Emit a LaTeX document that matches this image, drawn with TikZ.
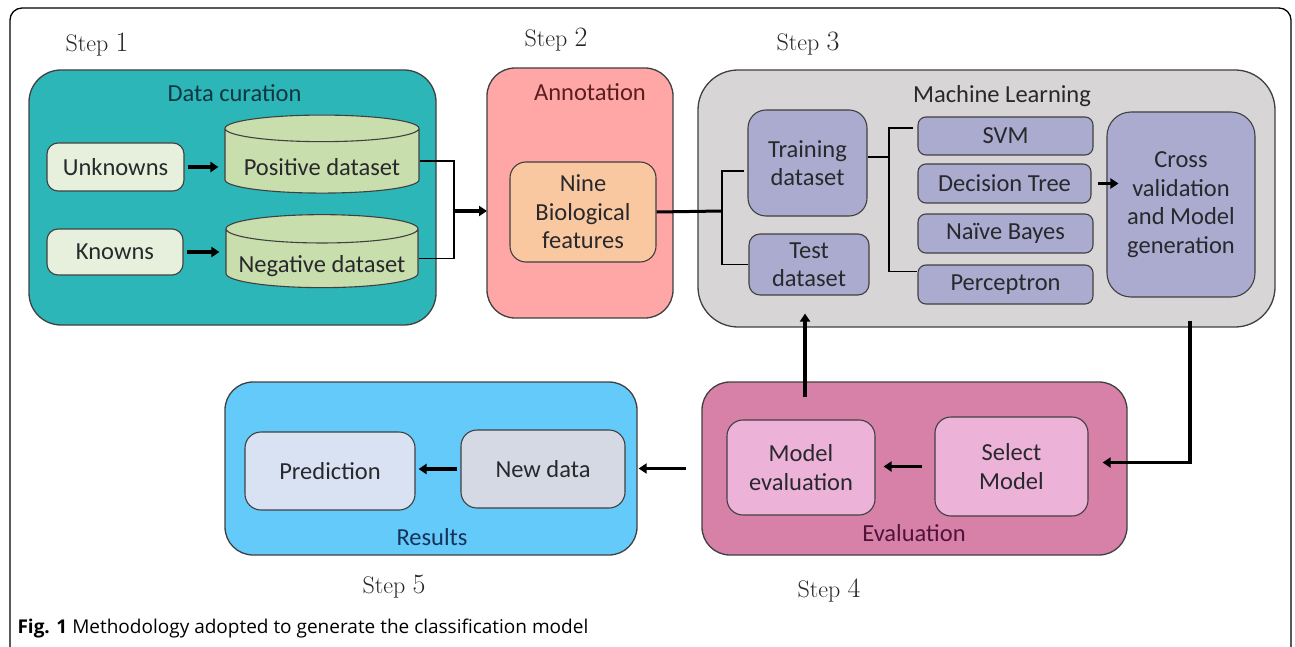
\documentclass[tikz,border=0pt]{standalone}
\usepackage{fontspec}
\setsansfont{Carlito}
\newfontfamily\capfont{Open Sans}
\usetikzlibrary{shapes.geometric,arrows.meta}
\definecolor{curfill}{RGB}{44,182,184}
\definecolor{tankfill}{RGB}{200,222,172}
\definecolor{srcfill}{RGB}{230,240,220}
\definecolor{annfill}{RGB}{255,166,166}
\definecolor{ninefill}{RGB}{250,200,160}
\definecolor{mlfill}{RGB}{215,213,213}
\definecolor{algfill}{RGB}{170,171,206}
\definecolor{evlfill}{RGB}{215,128,168}
\definecolor{pinkbox}{RGB}{236,178,216}
\definecolor{resfill}{RGB}{100,202,250}
\definecolor{predfill}{RGB}{216,226,242}
\definecolor{newfill}{RGB}{212,217,227}
\definecolor{txt}{RGB}{40,40,45}
\begin{document}
\begin{tikzpicture}[x=1pt,y=-1pt,
  every node/.style={font=\sffamily\fontsize{24.5}{28.5}\selectfont,text=txt},
  group/.style={draw=black!75,line width=1.3pt,rounded corners=32pt},
  item/.style={draw=black!75,line width=1.1pt,rounded corners=11pt,align=center,inner sep=0pt},
  tank/.style={cylinder,shape border rotate=90,aspect=0.17,draw=black!75,line width=1.1pt,
    cylinder uses custom fill,cylinder body fill=tankfill,cylinder end fill=tankfill,inner sep=0pt},
  arr/.style={line width=3.2pt,-{Triangle[length=8pt,width=10pt]}},
  link/.style={line width=1.8pt},
  steplbl/.style={font=\rmfamily\fontsize{24}{28}\selectfont,text=black!85}]
\useasboundingbox (0,0) rectangle (1295,647);
\draw[line width=1.3pt,rounded corners=12pt] (10,647) -- (10,8) -- (1291,8) -- (1291,647);
% step 1
\node[steplbl] (s1) at (97,45) {Step {\fontsize{28}{28}\selectfont 1}};
\node[group,fill=curfill,minimum width=407,minimum height=255] (cur) at (232.5,197.5) {};
\node[text={rgb,255:red,15;green,55;blue,65}] (curT) at (234.5,93) {Data curation};
\node[item,fill=srcfill,minimum width=137,minimum height=48] (unk) at (115.5,167) {Unknowns};
\node[item,fill=srcfill,minimum width=136,minimum height=46] (kno) at (115,252) {Knowns};
\node[tank,minimum width=194,minimum height=78] (pos) at (322,161) {\raisebox{-6pt}[\height][\depth]{Positive dataset}};
\node[tank,minimum width=192,minimum height=73] (neg) at (322,258.5) {\raisebox{-8pt}[\height][\depth]{Negative dataset}};
\draw[arr,shorten <=3pt,shorten >=6pt] (unk.east) -- (unk.east -| pos.west);
\draw[arr,shorten <=3pt,shorten >=6pt] (kno.east) -- (kno.east -| neg.west);
\coordinate (jn) at (454,211);
\draw[link] (pos.east) -| (jn) |- (neg.east);
\draw[arr] (jn) -- (jn -| 487,0);
% step 2
\node[steplbl] (s2) at (556,40) {Step {\fontsize{28}{28}\selectfont 2}};
\node[group,rounded corners=28pt,fill=annfill,minimum width=186,minimum height=250] (ann) at (580,193) {};
\node[text={rgb,255:red,90;green,30;blue,30}] (annT) at (590,92) {Annotation};
\node[item,fill=ninefill,minimum width=146,minimum height=100,rounded corners=16pt] (nine) at (583,212) {Nine\\Biological\\features};
% step 3
\node[steplbl] (s3) at (808,44) {Step {\fontsize{28}{28}\selectfont 3}};
\node[group,rounded corners=40pt,fill=mlfill,minimum width=577,minimum height=257] (ml) at (986.5,198.5) {};
\node (mlT) at (1002,96) {Machine Learning};
\node[item,fill=algfill,minimum width=119,minimum height=106,rounded corners=18pt] (train) at (807.5,163) {Training\\dataset};
\node[item,fill=algfill,minimum width=120,minimum height=61] (test) at (809,264.5) {Test\\dataset};
\node[item,fill=algfill,minimum width=175,minimum height=38,rounded corners=8pt] (svm) at (1005.5,136) {SVM};
\node[item,fill=algfill,minimum width=173,minimum height=39,rounded corners=8pt] (dtree) at (1004.5,183.5) {Decision Tree};
\node[item,fill=algfill,minimum width=175,minimum height=39,rounded corners=8pt] (bayes) at (1005.5,233.5) {Naïve Bayes};
\node[item,fill=algfill,minimum width=175,minimum height=39,rounded corners=8pt] (percep) at (1005.5,284.5) {Perceptron};
\node[item,fill=algfill,minimum width=148,minimum height=185,rounded corners=24pt] (cross) at (1181,204.5) {Cross\\validation\\and Model\\generation};
\coordinate (jt) at (722,211);
\draw[link,line width=3pt] (nine.east) -- (jt);
\draw[link] ([xshift=-3pt,yshift=-8pt]train.west) -| (jt) |- (test.west);
\coordinate (jm) at (889,157);
\draw[link] ([yshift=6pt]train.east) -- (jm);
\draw[link] ([xshift=-4pt,yshift=8pt]svm.west) -| (jm) |- ([yshift=13pt]percep.west);
\draw[arr,shorten <=6pt,shorten >=-12pt] (dtree.east) -- (dtree.east -| cross.west);
% step 4
\node[steplbl] (s4) at (829,590) {Step {\fontsize{28}{28}\selectfont 4}};
\node[group,rounded corners=28pt,fill=evlfill,minimum width=425,minimum height=173] (evl) at (914.5,468.5) {};
\node[text={rgb,255:red,80;green,20;blue,60}] (evlT) at (914,533) {Evaluation};
\node[item,fill=pinkbox,minimum width=148,minimum height=95,rounded corners=16pt] (meval) at (801,467.5) {Model\\evaluation};
\node[item,fill=pinkbox,minimum width=153,minimum height=99,rounded corners=16pt] (selm) at (1011.5,466.5) {Select\\Model};
\draw[arr] ([xshift=9pt,yshift=-23pt]cross.south) |- ([xshift=14pt,yshift=4pt]selm.east);
\draw[arr,shorten <=12pt,shorten >=8pt] (selm.west) -- (selm.west -| meval.east);
\draw[arr] ([xshift=4pt,yshift=22pt]meval.north) -- ([xshift=4pt,yshift=-18pt]meval.north |- test.south);
% step 5
\node[steplbl] (s5) at (394,587) {Step {\fontsize{28}{28}\selectfont 5}};
\node[group,rounded corners=28pt,fill=resfill,minimum width=412,minimum height=173] (res) at (431,468.5) {};
\node[text={rgb,255:red,20;green,50;blue,90}] (resT) at (432,537) {Results};
\node[item,fill=predfill,minimum width=170,minimum height=78,rounded corners=16pt] (pred) at (330,471) {Prediction};
\node[item,fill=newfill,minimum width=164,minimum height=78,rounded corners=16pt] (newd) at (543,469) {New data};
\draw[arr,shorten <=3pt,shorten >=3pt] (newd.west) -- (newd.west -| pred.east);
\draw[arr] ([xshift=-15pt]evl.west) -- ([xshift=1pt]res.east);
% caption
\node[anchor=west,text=black,font=\capfont\fontsize{19}{22}\selectfont] (cap) at (14,629) {\textbf{Fig. 1} Methodology adopted to generate the classification model};
\end{tikzpicture}
\end{document}
